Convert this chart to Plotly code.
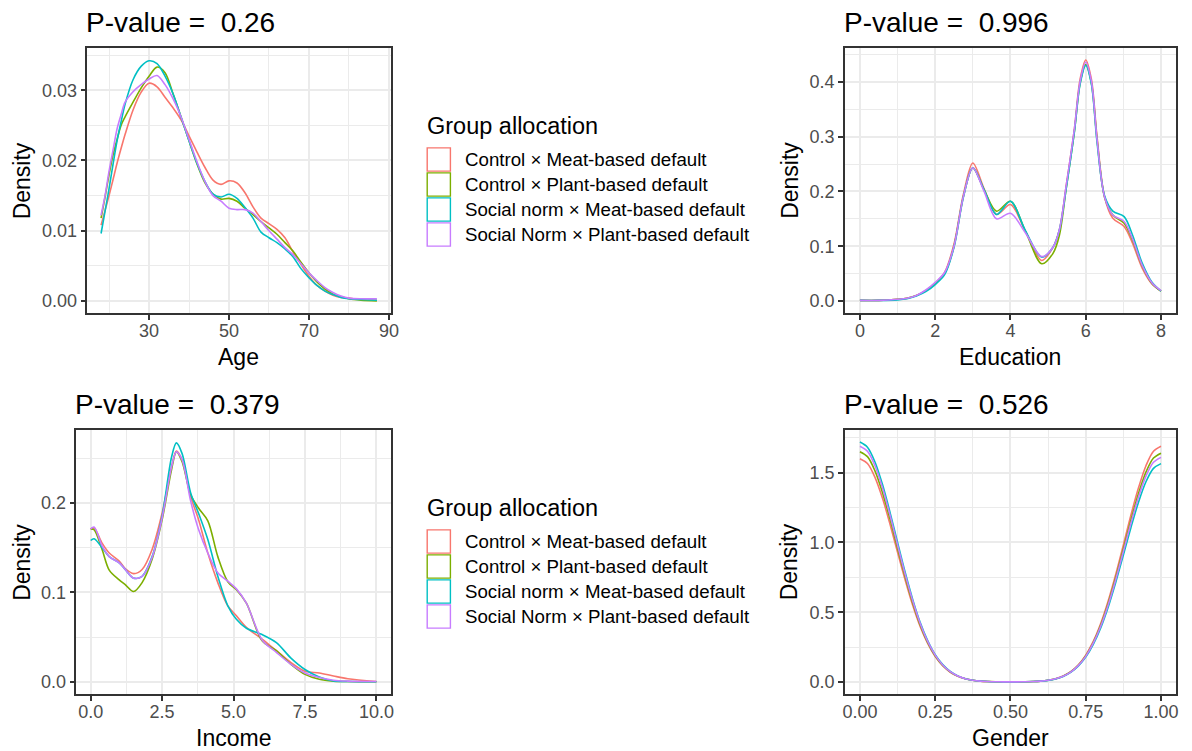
import plotly.graph_objects as go

W, H = 1192, 751
FONT = "Liberation Sans, Arial, sans-serif"

groups = [
    "Control × Meat-based default",
    "Control × Plant-based default",
    "Social norm × Meat-based default",
    "Social Norm × Plant-based default",
]
colors = ["#F8766D", "#7CAE00", "#00BFC4", "#C77CFF"]

# ---- Age ----
age_x = [18, 19, 20, 21, 22, 23, 24, 26, 28, 30, 32, 34, 36, 38, 40, 42, 44, 46, 48,
         50, 52, 54, 56, 58, 60, 62, 64, 66, 68, 70, 72, 74, 76, 78, 80, 83, 87]
age_red = [0.0108, 0.0129, 0.0150, 0.0173, 0.0196, 0.0217, 0.0237, 0.0272, 0.0297,
           0.0310, 0.0305, 0.0290, 0.0275, 0.0258, 0.0235, 0.0212, 0.0190, 0.0172,
           0.0166, 0.0171, 0.0168, 0.0154, 0.0134, 0.0118, 0.0110, 0.0102, 0.0090,
           0.0070, 0.0052, 0.0035, 0.0022, 0.0014, 0.0008, 0.0005, 0.0004, 0.0002, 0.0001]
age_green = [0.0118, 0.0148, 0.0180, 0.0208, 0.0230, 0.0250, 0.0262, 0.0283, 0.0303,
             0.0320, 0.0333, 0.0325, 0.0295, 0.0262, 0.0228, 0.0195, 0.0168, 0.0152,
             0.0145, 0.0146, 0.0142, 0.0132, 0.0123, 0.0113, 0.0104, 0.0095, 0.0083,
             0.0071, 0.0055, 0.0040, 0.0027, 0.0017, 0.0010, 0.0006, 0.0003, 0.0001, 0.0000]
age_cyan = [0.0096, 0.0128, 0.0160, 0.0195, 0.0228, 0.0255, 0.0280, 0.0315, 0.0334,
            0.0342, 0.0338, 0.0320, 0.0295, 0.0262, 0.0228, 0.0196, 0.0170, 0.0152,
            0.0148, 0.0152, 0.0146, 0.0133, 0.0118, 0.0098, 0.0090, 0.0083, 0.0074,
            0.0063, 0.0046, 0.0033, 0.0022, 0.0014, 0.0009, 0.0005, 0.0003, 0.0002, 0.0001]
age_purple = [0.0122, 0.0150, 0.0185, 0.0215, 0.0245, 0.0265, 0.0283, 0.0298, 0.0308,
              0.0316, 0.0321, 0.0308, 0.0288, 0.0262, 0.0230, 0.0198, 0.0170, 0.0150,
              0.0142, 0.0132, 0.0130, 0.0130, 0.0125, 0.0113, 0.0100, 0.0088, 0.0076,
              0.0066, 0.0053, 0.0040, 0.0029, 0.0019, 0.0012, 0.0007, 0.0004, 0.0003, 0.0003]

# ---- Education ----
edu_x = [0, 0.5, 1, 1.25, 1.5, 1.75, 2, 2.25, 2.5, 2.75, 3, 3.3, 3.63, 4, 4.4,
         4.83, 5.13, 5.3, 5.48, 5.7, 5.85, 6, 6.15, 6.3, 6.5, 6.72, 7.02, 7.24,
         7.5, 7.76, 8]
edu_red = [0.001, 0.001, 0.003, 0.005, 0.010, 0.019, 0.032, 0.052, 0.104, 0.195,
           0.252, 0.205, 0.158, 0.176, 0.127, 0.074, 0.098, 0.130, 0.210, 0.315,
           0.405, 0.440, 0.405, 0.300, 0.190, 0.151, 0.136, 0.106, 0.060, 0.031, 0.018]
edu_green = [0.001, 0.001, 0.003, 0.005, 0.010, 0.019, 0.032, 0.050, 0.100, 0.191,
             0.243, 0.203, 0.164, 0.182, 0.127, 0.068, 0.087, 0.120, 0.205, 0.310,
             0.398, 0.432, 0.398, 0.295, 0.190, 0.157, 0.142, 0.112, 0.064, 0.032, 0.018]
edu_cyan = [0.001, 0.001, 0.002, 0.004, 0.009, 0.017, 0.030, 0.048, 0.098, 0.190,
            0.243, 0.203, 0.158, 0.182, 0.128, 0.080, 0.098, 0.130, 0.205, 0.310,
            0.396, 0.430, 0.396, 0.290, 0.192, 0.164, 0.154, 0.121, 0.069, 0.034, 0.018]
edu_purple = [0.001, 0.001, 0.003, 0.005, 0.010, 0.020, 0.034, 0.052, 0.100, 0.191,
              0.243, 0.200, 0.150, 0.160, 0.124, 0.081, 0.098, 0.130, 0.210, 0.315,
              0.401, 0.436, 0.401, 0.295, 0.190, 0.157, 0.145, 0.114, 0.065, 0.033, 0.019]

# ---- Income ----
inc_x = [0, 0.12, 0.4, 0.65, 1.0, 1.2, 1.5, 1.8, 2.15, 2.5, 2.83, 3.0, 3.2, 3.5,
         3.78, 4.1, 4.45, 4.8, 5.1, 5.45, 6.0, 6.5, 7.0, 7.5, 8.0, 8.5, 9.0, 10.0]
inc_red = [0.1707, 0.172, 0.155, 0.144, 0.135, 0.127, 0.121, 0.1256, 0.148, 0.1885,
           0.240, 0.258, 0.248, 0.207, 0.181, 0.144, 0.111, 0.085, 0.074, 0.061,
           0.048, 0.035, 0.022, 0.012, 0.010, 0.0067, 0.0037, 0.0005]
inc_green = [0.171, 0.170, 0.148, 0.125, 0.114, 0.109, 0.101, 0.111, 0.137, 0.181,
             0.237, 0.257, 0.246, 0.209, 0.194, 0.180, 0.140, 0.112, 0.103, 0.088,
             0.046, 0.035, 0.020, 0.0085, 0.003, 0.001, 0.0005, 0.0002]
inc_cyan = [0.158, 0.160, 0.150, 0.140, 0.133, 0.126, 0.116, 0.118, 0.140, 0.185,
            0.251, 0.267, 0.255, 0.211, 0.188, 0.159, 0.118, 0.085, 0.070, 0.060,
            0.053, 0.044, 0.027, 0.014, 0.0056, 0.0011, 0.0005, 0.0002]
inc_purple = [0.171, 0.173, 0.152, 0.140, 0.133, 0.126, 0.116, 0.118, 0.139, 0.183,
              0.240, 0.257, 0.248, 0.202, 0.170, 0.144, 0.122, 0.1126, 0.104, 0.088,
              0.047, 0.033, 0.020, 0.010, 0.005, 0.002, 0.001, 0.0005]

# ---- Gender ----
gen_x = [0, 0.025, 0.05, 0.075, 0.1, 0.125, 0.15, 0.175, 0.2, 0.225, 0.25, 0.275,
         0.3, 0.325, 0.35, 0.375, 0.4, 0.425, 0.45, 0.475, 0.5, 0.525, 0.55, 0.575,
         0.6, 0.625, 0.65, 0.675, 0.7, 0.725, 0.75, 0.775, 0.8, 0.825, 0.85, 0.875,
         0.9, 0.925, 0.95, 0.975, 1.0]
gen_red = [1.600, 1.566, 1.467, 1.316, 1.131, 0.930, 0.733, 0.552, 0.398, 0.276,
           0.182, 0.116, 0.070, 0.041, 0.023, 0.012, 0.006, 0.0032, 0.0017, 0.0012,
           0.0010, 0.0012, 0.0017, 0.0033, 0.0066, 0.0128, 0.024, 0.043, 0.074, 0.122,
           0.193, 0.291, 0.421, 0.584, 0.774, 0.982, 1.195, 1.390, 1.550, 1.654, 1.690]
gen_green = [1.650, 1.615, 1.513, 1.357, 1.167, 0.959, 0.756, 0.570, 0.411, 0.284,
             0.188, 0.119, 0.073, 0.042, 0.023, 0.0125, 0.0064, 0.0032, 0.0017, 0.0012,
             0.0010, 0.0012, 0.0017, 0.0032, 0.0064, 0.0124, 0.023, 0.042, 0.072, 0.119,
             0.187, 0.283, 0.408, 0.566, 0.751, 0.953, 1.159, 1.349, 1.504, 1.605, 1.640]
gen_cyan = [1.720, 1.683, 1.577, 1.415, 1.216, 1.000, 0.788, 0.594, 0.428, 0.297,
            0.196, 0.125, 0.076, 0.044, 0.024, 0.013, 0.0067, 0.0033, 0.0017, 0.0012,
            0.0010, 0.0012, 0.0016, 0.0031, 0.0061, 0.0119, 0.022, 0.040, 0.069, 0.113,
            0.178, 0.270, 0.390, 0.540, 0.717, 0.910, 1.106, 1.287, 1.435, 1.531, 1.565]
gen_purple = [1.690, 1.654, 1.550, 1.390, 1.195, 0.982, 0.774, 0.584, 0.421, 0.291,
              0.193, 0.122, 0.074, 0.043, 0.024, 0.0128, 0.0066, 0.0033, 0.0017, 0.0012,
              0.0010, 0.0012, 0.0017, 0.0032, 0.0063, 0.0122, 0.023, 0.041, 0.071, 0.117,
              0.184, 0.278, 0.401, 0.556, 0.737, 0.936, 1.138, 1.324, 1.476, 1.575, 1.610]

p_values = ["0.26", "0.996", "0.379", "0.526"]


def fx(px):
    return px / W


def fy(px):
    return 1 - px / H


panels = [
    dict(name="Age", x=age_x, ys=[age_red, age_green, age_cyan, age_purple],
         xdom=(86, 392), ydom=(48, 313), xrange=[14.55, 90.45], yrange=[-0.00172, 0.03602],
         xticks=[30, 50, 70, 90], xlabels=["30", "50", "70", "90"], xminor=[20, 40, 60, 80],
         yticks=[0, 0.01, 0.02, 0.03], ylabels=["0.00", "0.01", "0.02", "0.03"],
         yminor=[0.005, 0.015, 0.025, 0.035]),
    dict(name="Education", x=edu_x, ys=[edu_red, edu_green, edu_cyan, edu_purple],
         xdom=(850, 1184), ydom=(48, 313), xrange=[-0.4, 8.4], yrange=[-0.022, 0.462],
         xticks=[0, 2, 4, 6, 8], xlabels=["0", "2", "4", "6", "8"], xminor=[1, 3, 5, 7],
         yticks=[0, 0.1, 0.2, 0.3, 0.4], ylabels=["0.0", "0.1", "0.2", "0.3", "0.4"],
         yminor=[0.05, 0.15, 0.25, 0.35, 0.45]),
    dict(name="Income", x=inc_x, ys=[inc_red, inc_green, inc_cyan, inc_purple],
         xdom=(75, 392), ydom=(430, 694), xrange=[-0.5, 10.5], yrange=[-0.0134, 0.2814],
         xticks=[0, 2.5, 5, 7.5, 10], xlabels=["0.0", "2.5", "5.0", "7.5", "10.0"],
         xminor=[1.25, 3.75, 6.25, 8.75],
         yticks=[0, 0.1, 0.2], ylabels=["0.0", "0.1", "0.2"], yminor=[0.05, 0.15, 0.25]),
    dict(name="Gender", x=gen_x, ys=[gen_red, gen_green, gen_cyan, gen_purple],
         xdom=(850, 1184), ydom=(430, 694), xrange=[-0.05, 1.05], yrange=[-0.086, 1.806],
         xticks=[0, 0.25, 0.5, 0.75, 1], xlabels=["0.00", "0.25", "0.50", "0.75", "1.00"],
         xminor=[0.125, 0.375, 0.625, 0.875],
         yticks=[0, 0.5, 1.0, 1.5], ylabels=["0.0", "0.5", "1.0", "1.5"],
         yminor=[0.25, 0.75, 1.25, 1.75]),
]

fig = go.Figure()
layout = dict(
    width=W, height=H,
    margin=dict(l=0, r=0, t=0, b=0),
    paper_bgcolor="white", plot_bgcolor="white",
    showlegend=False,
    font=dict(family=FONT, color="black"),
)

GRID = "#EBEBEB"
BORDER = "#333333"

annotations = []
shapes = []

for i, p in enumerate(panels):
    k = "" if i == 0 else str(i + 1)
    for ys, col, g in zip(p["ys"], colors, groups):
        fig.add_trace(go.Scatter(
            x=p["x"], y=ys, mode="lines", name=g,
            line=dict(color=col, width=1.6, shape="spline", smoothing=0.9),
            xaxis="x" + k, yaxis="y" + k, hoverinfo="x+y+name",
        ))
    common = dict(
        showline=True, mirror=True, linecolor=BORDER, linewidth=1.5,
        ticks="outside", ticklen=5, tickwidth=1.5, tickcolor=BORDER,
        showgrid=True, gridcolor=GRID, gridwidth=2, zeroline=False,
        tickfont=dict(family=FONT, size=18, color="#4D4D4D"),
        tickmode="array", fixedrange=True,
    )
    layout["xaxis" + k] = dict(
        common, domain=[fx(p["xdom"][0]), fx(p["xdom"][1])], range=p["xrange"],
        tickvals=p["xticks"], ticktext=p["xlabels"], anchor="y" + k,
        ticklabelstandoff=-4,
        minor=dict(tickmode="array", tickvals=p["xminor"], showgrid=True,
                   gridcolor=GRID, gridwidth=1, ticks=""),
    )
    layout["yaxis" + k] = dict(
        common, domain=[fy(p["ydom"][1]), fy(p["ydom"][0])], range=p["yrange"],
        tickvals=p["yticks"], ticktext=p["ylabels"], anchor="x" + k,
        minor=dict(tickmode="array", tickvals=p["yminor"], showgrid=True,
                   gridcolor=GRID, gridwidth=1, ticks=""),
    )

    x0, x1 = p["xdom"]
    y0, y1 = p["ydom"]
    # panel title
    annotations.append(dict(
        text="P-value =  " + p_values[i], x=fx(x0 - 3), y=fy(y0 - 26),
        xref="paper", yref="paper", xanchor="left", yanchor="middle",
        showarrow=False, font=dict(family=FONT, size=28, color="black"),
    ))
    # x-axis title
    annotations.append(dict(
        text=p["name"], x=fx((x0 + x1) / 2), y=fy(y1 + 44),
        xref="paper", yref="paper", xanchor="center", yanchor="middle",
        showarrow=False, borderpad=0, font=dict(family=FONT, size=23, color="black"),
    ))
    # y-axis title
    ytx = 20 if x0 < 400 else 794
    annotations.append(dict(
        text="Density", x=fx(ytx), y=fy((y0 + y1) / 2), textangle=-90,
        xref="paper", yref="paper", xanchor="center", yanchor="middle",
        showarrow=False, font=dict(family=FONT, size=23, color="black"),
    ))

# Legends (one beside each row of panels)
for top in (0, 382):
    annotations.append(dict(
        text="Group allocation", x=fx(427), y=fy(126 + top),
        xref="paper", yref="paper", xanchor="left", yanchor="middle",
        showarrow=False, font=dict(family=FONT, size=23.5, color="black"),
    ))
    for j, (g, col) in enumerate(zip(groups, colors)):
        cy = 159.5 + 25 * j + top
        shapes.append(dict(
            type="rect", xref="paper", yref="paper",
            x0=fx(428.8), x1=fx(452.2), y0=fy(cy + 11.6), y1=fy(cy - 11.6),
            line=dict(color=col, width=1.4), fillcolor="white",
        ))
        annotations.append(dict(
            text=g, x=fx(464.5), y=fy(cy),
            xref="paper", yref="paper", xanchor="left", yanchor="middle",
            showarrow=False, font=dict(family=FONT, size=18.7, color="black"),
        ))

layout["annotations"] = annotations
layout["shapes"] = shapes
fig.update_layout(**layout)
fig.write_html("out.html")
